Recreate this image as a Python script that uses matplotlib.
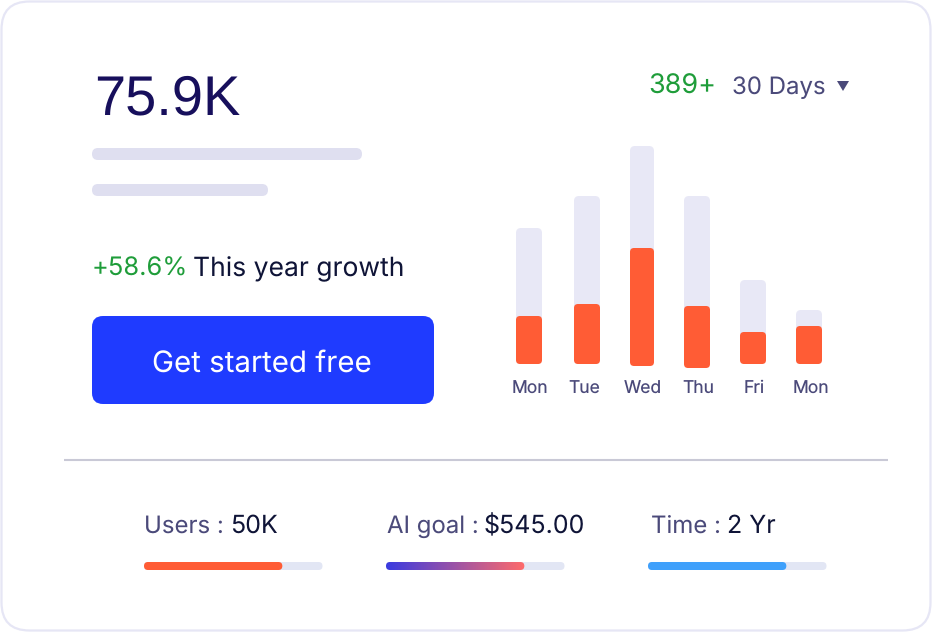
import matplotlib
matplotlib.use("Agg")
import matplotlib.pyplot as plt
import numpy as np
from matplotlib.colors import LinearSegmentedColormap
from matplotlib.patches import FancyBboxPatch, Polygon

# bar chart values
days = ["Mon", "Tue", "Wed", "Thu", "Fri", "Mon"]
total_values = [136, 168, 218, 168, 84, 54]
active_values = [48, 60, 116, 58, 32, 38]
active_starts = [0, 0, -2, -4, 0, 0]

# bottom stats
stat_labels = ["Users :", "AI goal :", "Time :"]
stat_values = ["50K", "$545.00", "2 Yr"]
stat_progress = [77.5, 77.5, 77.5]

headline = "75.9K"
growth = "+58.6%"
growth_text = "This year growth"
button_text = "Get started free"
change = "389+"
period = "30 Days"

FONT = "Inter"
DARK = "#0f1437"
MUTED = "#4b4a7a"
GREEN = "#1f9d3a"
ORANGE = "#ff5c35"

plt.rcParams["text.hinting"] = "no_hinting"
plt.rcParams["text.hinting_factor"] = 1


def px(size):
    # font size in image pixels to points at 100 dpi
    return size * 0.72


def rounded(ax, x0, y0, x1, y1, radius, color, **kwargs):
    patch = FancyBboxPatch((x0, y0), x1 - x0, y1 - y0,
                           boxstyle=f"round,pad=0,rounding_size={radius}",
                           facecolor=color, edgecolor="none", **kwargs)
    ax.add_patch(patch)
    return patch


fig = plt.figure(figsize=(9.32, 6.32), dpi=100, facecolor="white")

# card axes, measured in image pixels
card = fig.add_axes([0, 0, 1, 1])
card.set_xlim(0, 932)
card.set_ylim(632, 0)
card.axis("off")

border = FancyBboxPatch((1.5, 1.5), 929, 629, boxstyle="round,pad=0,rounding_size=28",
                        facecolor="white", edgecolor="#e6e6f5", linewidth=1.6)
card.add_patch(border)

card.text(94, 114, headline, family="Liberation Sans", fontsize=px(56), color="#170f5c",
          va="baseline")
rounded(card, 92, 148, 362, 160, 6, "#dfdff0")
rounded(card, 92, 184, 268, 196, 6, "#dfdff0")

card.text(92, 276, growth, family=FONT, fontsize=px(25.5), color=GREEN, va="baseline")
card.text(193, 276, growth_text, family=FONT, fontsize=px(26.5), color=DARK, va="baseline")

rounded(card, 92, 316, 434, 404, 11, "#1f3bff")
card.text(262, 372, button_text, family=FONT, fontsize=px(29.5), color="white",
          ha="center", va="baseline")

card.text(648, 94, change, family=FONT, fontsize=px(27), color=GREEN, va="baseline")
card.text(732, 94, period, family=FONT, fontsize=px(24), color=MUTED, va="baseline")
card.add_patch(Polygon([(837, 81), (849, 81), (843, 91)], closed=True,
                       facecolor=MUTED, edgecolor="none"))

card.plot([64, 888], [460, 460], color="#c9c9d6", linewidth=1.5, solid_capstyle="butt")

# stats row
text_left = [144, 387, 651]
value_left = [230, 484, 727]
bar_left = [144, 386, 648]
bar_width = 178.5
gradient = LinearSegmentedColormap.from_list("goal", ["#3a3be0", "#ff6b6b"])
for i in range(3):
    card.text(text_left[i], 533, stat_labels[i], family=FONT, fontsize=px(24),
              color=MUTED, va="baseline")
    card.text(value_left[i], 533, stat_values[i], family=FONT, fontsize=px(25),
              color=DARK, va="baseline")
    x0 = bar_left[i]
    x1 = x0 + bar_width * stat_progress[i] / 100
    rounded(card, x0, 562, x0 + bar_width, 570, 4, "#e2e6f4")
    if i == 0:
        rounded(card, x0, 562, x1, 570, 4, ORANGE)
    elif i == 2:
        rounded(card, x0, 562, x1, 570, 4, "#3fa0fb")
    else:
        clip = rounded(card, x0, 562, x1, 570, 4, "none")
        img = card.imshow(np.linspace(0, 1, 256).reshape(1, -1), cmap=gradient,
                          extent=(x0, x1, 570, 562), aspect="auto", zorder=3)
        img.set_clip_path(clip)
card.set_xlim(0, 932)
card.set_ylim(632, 0)

# bar chart axes, one unit is one pixel, zero sits on the bar baseline
chart = fig.add_axes([490 / 932, 1 - 374 / 632, 360 / 932, 240 / 632])
chart.patch.set_alpha(0)
chart.set_xlim(0, 360)
chart.set_ylim(-10, 230)
for spine in chart.spines.values():
    spine.set_visible(False)
chart.set_yticks([])

centers = [39, 97, 152, 207, 263, 319]
widths = [26, 26, 24, 26, 26, 26]
for c, w, total, active, start in zip(centers, widths, total_values, active_values, active_starts):
    rounded(chart, c - w / 2, 0, c + w / 2, total, 5, "#e8e8f6")
    rounded(chart, c - w / 2, start, c + w / 2, active, 4, ORANGE)

# the labels do not sit exactly under their bars in the picture
chart.set_xticks([39.5, 94, 153, 208, 264, 321])
chart.set_xticklabels(days, family=FONT, fontsize=px(17.5), color=MUTED, va="baseline")
chart.tick_params(axis="x", length=0, pad=14)

fig.savefig("out.png", dpi=100)
